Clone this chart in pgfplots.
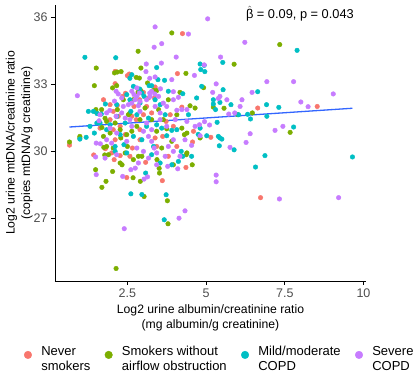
\documentclass[border=0pt]{standalone}
\usepackage{amsmath}
\usepackage{pgfplots}
\pgfplotsset{compat=1.18}
\usepackage{fontspec}
\setmainfont{Liberation Sans}
\definecolor{cR}{HTML}{F8766D}
\definecolor{cG}{HTML}{7CAE00}
\definecolor{cC}{HTML}{00BFC4}
\definecolor{cP}{HTML}{C77CFF}
\definecolor{cL}{HTML}{3366FF}
\definecolor{tg}{HTML}{4D4D4D}
\begin{document}
\begin{tikzpicture}
\begin{axis}[
  scale only axis, width=311pt, height=276pt,
  xmin=0.2, xmax=10.08, ymin=24.2, ymax=36.55,
  axis x line*=bottom, axis y line*=left,
  axis line style={black, line width=0.6pt, -},
  xtick={2.5,5,7.5,10}, xticklabels={2.5,5,7.5,10},
  ytick={27,30,33,36},
  tick align=outside, major tick length=4pt,
  tick style={black, line width=0.6pt},
  /pgf/number format/assume math mode=true,
  ticklabel style={font=\fontsize{12.5}{14}\selectfont, text=tg},
  xlabel={Log2 urine albumin/creatinine ratio\\(mg albumin/g creatinine)},
  ylabel={Log2 urine mtDNA/creatinine ratio\\(copies mtDNA/g creatinine)},
  label style={font=\fontsize{12.2}{15.5}\selectfont, align=center},
  every axis y label/.append style={yshift=-6pt},
  clip=false,
  legend columns=4,
  legend style={at={(0.53,-0.218)}, anchor=north, draw=none, fill=none,
    font=\fontsize{13}{14.6}\selectfont,
    /tikz/every odd column/.append style={column sep=7.5pt},
    /tikz/every even column/.append style={column sep=12.5pt},
    cells={align=left}},
  legend image code/.code={\draw[#1, mark size=3.8pt] plot coordinates {(0cm,0cm)};},
  every axis plot/.append style={only marks, mark=*, mark size=2.3pt},
]
\addplot[cR, mark options={draw=none, fill=cR}] coordinates {
(0.66,30.28) (1.43,29.84) (2.11,33.58) (2.11,33.03) (2.50,33.39) (2.56,33.46) (4.25,35.27) (4.09,33.48) (6.73,27.93) (6.64,31.94) (8.53,32.01) (4.23,31.98) (3.86,31.64) (5.15,30.63) (4.57,30.42) (3.61,28.69) (2.48,28.83) (3.08,29.51) (2.27,29.81) (2.43,30.75) (2.05,30.97) (1.95,32.09) (2.35,32.46) (2.71,32.01) (3.11,32.01) (3.38,32.88) (3.73,31.34) (2.89,32.31) (2.11,30.52) (2.08,29.63) (2.66,30.15) (3.38,30.60) (1.95,31.42) (2.21,31.57) (1.80,30.12) (1.63,31.04) (3.62,30.67) (3.96,31.12) (2.78,31.42) (4.07,30.22) (4.60,30.90) (2.00,29.93) (3.27,31.72) (2.90,30.97) (1.74,32.31) (2.64,31.57) (3.01,31.64) (3.43,30.22) (3.80,29.78) (2.27,31.12) (2.90,30.52) (3.17,32.39) (2.58,29.78) (2.05,31.79) (4.36,29.28) (2.44,32.60) (3.01,32.64) (3.36,32.39) (2.18,32.06)
};
\addlegendentry{\begin{tabular}{@{}l@{}}Never\\smokers\end{tabular}}
\addplot[cG, mark options={draw=none, fill=cG}] coordinates {
(0.66,30.42) (0.99,30.67) (0.99,30.60) (1.45,32.94) (1.51,33.73) (1.50,31.87) (1.51,31.75) (1.49,29.18) (1.82,28.66) (1.69,28.39) (1.69,31.07) (1.79,31.48) (1.84,30.22) (1.90,29.85) (2.03,29.10) (2.03,32.84) (2.16,32.94) (2.09,33.51) (2.18,33.55) (2.30,33.57) (2.78,33.31) (2.88,33.28) (2.84,34.48) (2.93,33.73) (3.91,35.30) (4.36,33.49) (4.17,32.64) (3.77,27.79) (3.79,26.76) (2.14,24.76) (7.34,34.78) (5.89,33.90) (4.92,32.85) (7.67,30.85) (6.47,31.72) (6.01,31.64) (5.57,31.93) (3.33,32.73) (3.43,32.72) (3.49,31.87) (2.85,29.78) (2.69,29.63) (2.68,28.82) (2.91,28.66) (3.03,27.98) (3.52,29.03) (3.59,30.15) (4.39,29.93) (4.37,29.85) (3.64,31.42) (4.07,31.64) (4.49,32.04) (4.65,31.94) (3.96,29.40) (2.43,29.93) (2.27,30.97) (2.11,31.27) (2.69,32.31) (2.53,31.64) (2.58,31.72) (2.80,31.12) (1.95,30.82) (1.68,31.87) (2.18,31.87) (3.14,33.06) (3.75,31.01) (4.31,30.75) (4.39,30.82) (4.81,30.60) (5.23,31.98) (2.50,30.22) (2.29,30.60) (2.96,29.78) (3.44,29.63) (1.84,31.34) (2.37,32.31) (3.06,31.94) (3.27,31.42) (3.80,32.31) (3.91,30.45) (2.48,30.75) (2.90,31.42) (3.43,30.90) (2.05,30.15) (2.64,30.90) (4.23,31.04) (1.74,30.67) (2.27,29.48) (4.56,29.40) (2.33,29.40) (3.51,29.24) (2.92,32.73) (2.84,32.66) (1.78,29.84) (1.75,30.18)
};
\addlegendentry{\begin{tabular}{@{}l@{}}Smokers without\\airflow obstruction\end{tabular}}
\addplot[cC, mark options={draw=none, fill=cC}] coordinates {
(1.15,34.21) (2.13,34.19) (1.26,31.79) (1.42,31.79) (0.99,30.55) (1.19,30.63) (1.31,31.12) (1.63,31.27) (2.64,33.43) (2.58,33.27) (3.43,33.75) (3.19,32.94) (3.27,32.94) (3.68,33.18) (4.81,33.91) (4.94,33.85) (5.53,33.98) (4.83,33.66) (4.96,33.57) (7.89,34.52) (5.54,32.76) (4.86,32.91) (6.64,32.67) (5.35,31.30) (4.81,31.04) (5.23,32.31) (5.79,32.09) (5.44,32.19) (6.41,31.45) (6.32,31.66) (6.92,32.09) (7.78,31.09) (7.31,31.97) (6.93,31.57) (6.03,31.64) (5.39,30.67) (5.44,30.60) (5.50,30.55) (5.42,30.25) (5.89,30.07) (4.75,30.76) (5.02,30.70) (6.57,29.30) (6.87,29.81) (9.65,29.75) (2.61,28.10) (2.96,28.07) (3.73,28.06) (3.67,26.94) (4.12,29.55) (3.91,29.40) (3.08,29.03) (3.33,30.22) (3.75,30.70) (3.91,30.94) (3.59,31.04) (3.43,31.19) (3.38,32.31) (3.54,32.09) (2.96,32.61) (3.03,32.46) (2.58,32.31) (2.61,31.79) (2.16,32.09) (2.16,31.57) (2.11,30.22) (2.39,30.30) (2.11,30.00) (4.26,29.78) (4.21,30.00) (4.54,29.78) (2.48,29.93) (2.96,30.52) (3.11,31.12) (2.48,32.54) (2.69,32.91) (2.89,32.79) (1.84,30.97) (2.43,31.27) (2.80,31.64) (3.17,31.49) (3.70,31.64) (4.07,30.97) (4.44,31.64) (1.95,31.19) (2.69,30.67) (3.27,29.85) (3.54,29.48) (2.27,30.75) (2.90,32.16) (3.80,32.69) (3.47,33.21) (4.26,32.58) (4.70,32.39) (5.23,32.12) (5.30,31.87) (1.54,31.69) (1.67,31.67) (1.80,32.12) (1.53,31.27) (1.45,30.82)
};
\addlegendentry{\begin{tabular}{@{}l@{}}Mild/moderate\\COPD\end{tabular}}
\addplot[cP, mark options={draw=none, fill=cP}] coordinates {
(0.91,32.49) (5.05,35.93) (3.38,35.57) (4.44,35.25) (3.59,34.82) (6.23,34.88) (3.35,34.66) (4.05,34.22) (5.46,34.22) (3.58,33.95) (3.10,33.91) (4.94,33.87) (3.09,33.57) (4.63,33.40) (3.91,33.21) (6.93,33.12) (7.78,33.12) (5.32,33.02) (3.96,32.67) (6.14,32.31) (5.44,32.46) (8.01,32.21) (8.24,32.00) (9.04,32.57) (7.44,31.12) (7.19,30.94) (6.40,30.79) (6.27,30.40) (9.21,27.93) (7.33,27.87) (5.32,28.94) (5.32,28.64) (4.33,27.34) (4.14,27.01) (2.40,26.54) (1.51,28.96) (1.49,29.75) (1.51,30.37) (2.14,31.57) (1.79,29.70) (2.35,28.88) (2.61,29.18) (2.85,29.48) (3.17,29.70) (3.35,30.15) (3.01,30.00) (3.80,30.22) (3.27,30.45) (3.96,30.52) (4.17,29.78) (4.10,29.22) (4.65,31.12) (4.95,31.33) (4.79,31.19) (4.07,31.84) (4.39,31.87) (4.23,31.87) (3.75,32.01) (2.88,32.61) (2.64,32.69) (2.71,32.54) (2.80,32.46) (2.74,32.31) (2.90,32.24) (2.64,32.16) (2.53,32.09) (2.85,32.04) (2.32,31.72) (2.37,32.01) (1.63,31.64) (1.84,31.72) (2.16,30.82) (2.00,30.37) (1.84,30.52) (2.64,31.12) (3.11,31.27) (3.27,30.97) (3.54,31.42) (3.54,31.72) (3.96,32.31) (3.22,32.46) (3.49,32.46) (3.64,32.16) (4.39,31.34) (4.81,30.70) (4.54,30.27) (5.21,32.64) (5.39,32.37) (5.66,32.31) (6.08,32.01) (1.95,31.04) (2.43,31.49) (2.90,31.79) (3.17,30.67) (3.43,29.93) (3.70,29.78) (4.02,31.42) (4.33,30.52) (2.48,30.45) (2.80,30.15) (2.16,29.85) (3.38,32.01) (3.11,32.31) (2.58,31.42) (3.75,31.12) (3.96,30.00) (3.01,30.90) (2.32,32.39) (2.80,32.84) (3.27,32.69) (6.46,32.64) (5.72,31.67) (5.91,31.72) (5.76,30.18) (2.75,29.25) (3.43,29.40) (3.78,29.33) (3.03,28.76) (3.14,28.86) (2.14,32.69) (2.21,32.57) (3.21,33.27) (3.38,33.33) (3.55,32.80) (3.21,32.61) (3.37,32.57) (4.12,32.42) (1.94,31.83) (2.09,32.25) (1.60,31.37) (1.64,30.34) (5.11,31.18)
};
\addlegendentry{\begin{tabular}{@{}l@{}}Severe\\COPD\end{tabular}}
\addplot[cL, line width=1.3pt, forget plot, no marks, sharp plot] coordinates {(0.66,31.09) (9.65,31.93)};
\node[font=\fontsize{12.8}{15}\selectfont, anchor=center] at (axis cs:7.98,36.17) {$\hat{\text{β}}$ = 0.09, p = 0.043};
\end{axis}
\pgfresetboundingbox
\path[use as bounding box] (-55pt,-93pt) rectangle (360pt,281pt);
\end{tikzpicture}
\end{document}
